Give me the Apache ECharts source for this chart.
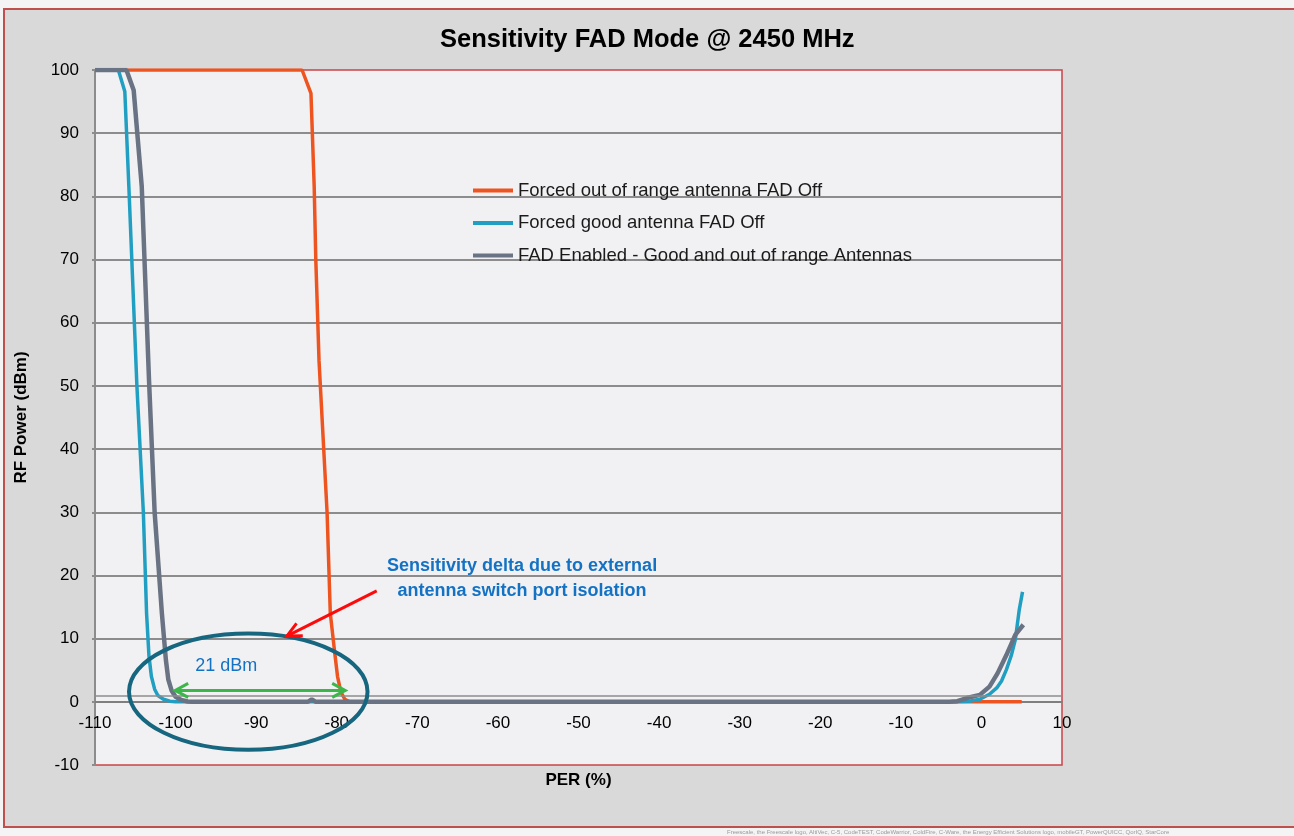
<!DOCTYPE html>
<html>
<head>
<meta charset="utf-8">
<script src="https://cdn.jsdelivr.net/npm/echarts@6/dist/echarts.min.js"></script>
<style>
html,body{margin:0;padding:0;background:#f4f4f4;width:1294px;height:836px;overflow:hidden;font-family:"Liberation Sans",Arial,sans-serif;}
#frame{position:absolute;left:3px;top:8px;width:1310px;height:820px;background:#d9d9d9;border:2px solid #c0504d;box-sizing:border-box;}
#chart{position:absolute;left:0;top:0;width:1294px;height:836px;}
#foot{position:absolute;left:727px;top:829px;font-size:6px;color:#9a9a9a;white-space:nowrap;}
</style>
</head>
<body>
<div id="frame"></div>
<div id="chart"></div>
<div id="foot">Freescale, the Freescale logo, AltiVec, C-5, CodeTEST, CodeWarrior, ColdFire, C-Ware, the Energy Efficient Solutions logo, mobileGT, PowerQUICC, QorIQ, StarCore</div>
<script>
// ---- data ----
const titleText = 'Sensitivity FAD Mode @ 2450 MHz';
const xAxisName = 'PER (%)';
const yAxisName = 'RF Power (dBm)';
const seriesNames = ['Forced out of range antenna FAD Off', 'Forced good antenna FAD Off', 'FAD Enabled - Good and out of range Antennas'];
const outOfRange = [[-110,100],[-84.3,100],[-83.2,96.3],[-82.8,81.6],[-82.6,70],[-82.2,54],[-81.2,30],[-80.8,14],[-80.2,7.2],[-79.9,4],[-79.5,1.6],[-79.0,0.4],[-78.4,0],[5,0]];
const goodAntenna = [[-110,100],[-107.1,100],[-106.3,96.6],[-105.8,81.6],[-104.8,50],[-104.0,30],[-103.6,14],[-103.3,7.2],[-103.0,4],[-102.6,2],[-102.2,1],[-101.5,0.4],[-100.7,0.1],[-100,0],[-4,0],[-3,0.05],[-1.5,0.1],[-0.2,0.4],[1,1.2],[1.9,2.2],[2.5,3.3],[3.1,5.1],[3.7,7.3],[4.2,9.8],[4.7,14.6],[5.1,17.4]];
const fadEnabled = [[-110,100],[-106.1,100],[-105.2,96.8],[-104.2,81.6],[-103.3,51],[-102.6,30],[-101.7,14],[-101.2,6.6],[-100.9,3.5],[-100.5,1.8],[-100.0,0.8],[-99.3,0.3],[-98.5,0.05],[-98,0],[-83.6,0],[-83.1,0.4],[-82.6,0],[-4,0],[-3,0.1],[-1.8,0.6],[-0.2,1.1],[1.0,2.4],[2.0,4.5],[3.1,7.4],[4.2,10.6],[5.2,12.2]];
const refLineY = 1;
const xCrossY = 0;
// annotations (data coordinates)
const noteLines = ['Sensitivity delta due to external', 'antenna switch port isolation'];
const noteAnchor = [-57.0, 21.5];
const noteLine2Anchor = [-57.0, 17.6];
const deltaLabel = '21 dBm';
const deltaLabelPos = [-93.7, 5.6];
const deltaArrow = [[-100.05, 1.8], [-78.95, 1.8]];
const ellipseCenter = [-90.98, 1.6];
const ellipseRadii = [14.8, 9.2];
const redArrow = [[-75.04, 17.56], [-86.2, 10.4]];

const colors = ['#ee5420', '#209fc2', '#6a7383'];
const chart = echarts.init(document.getElementById('chart'), null, {renderer: 'canvas'});
const FONT = '"Liberation Sans", Arial, sans-serif';

const option = {
  backgroundColor: 'transparent',
  animation: false,
  title: {text: titleText, left: 435, top: 22, textStyle: {fontFamily: FONT, fontSize: 25.5, fontWeight: 'bold', color: '#000'}},
  legend: {
    orient: 'vertical', left: 473, top: 181, padding: 0, itemWidth: 40, itemHeight: 4, itemGap: 13.5, icon: 'rect',
    textStyle: {fontFamily: FONT, fontSize: 18.5, lineHeight: 18, color: '#1a1a1a'},
    data: seriesNames
  },
  grid: {left: 95, top: 70, right: 232, bottom: 71, show: true, backgroundColor: '#f1f1f3', borderColor: '#c9444a', borderWidth: 1.5, outerBoundsMode: 'none', containLabel: false},
  xAxis: {
    type: 'value', min: -110, max: 10, interval: 10, position: 'bottom', offset: 0,
    name: xAxisName, nameLocation: 'middle', nameGap: 70,
    nameTextStyle: {fontFamily: FONT, fontSize: 17, fontWeight: 'bold', color: '#000'},
    axisLine: {onZero: false, lineStyle: {color: '#7f7f7f', width: 2}},
    axisTick: {show: false},
    axisLabel: {fontFamily: FONT, fontSize: 17, color: '#000', margin: 13},
    splitLine: {show: false}
  },
  yAxis: {
    type: 'value', min: -10, max: 100, interval: 10,
    name: yAxisName, nameLocation: 'middle', nameGap: 65,
    nameTextStyle: {fontFamily: FONT, fontSize: 17, fontWeight: 'bold', color: '#000'},
    axisLine: {show: true, onZero: false, lineStyle: {color: '#8c8c8c', width: 2}},
    axisTick: {show: true, inside: false, length: 3, lineStyle: {color: '#8c8c8c', width: 2}},
    axisLabel: {fontFamily: FONT, fontSize: 17, color: '#000', margin: 16},
    splitLine: {show: true, showMinLine: false, showMaxLine: false, lineStyle: {color: '#8c8c8c', width: 2}}
  },
  series: [
    {name: seriesNames[0], type: 'line', data: outOfRange, symbol: 'none', color: colors[0], lineStyle: {width: 3.5, color: colors[0]},
     markLine: {silent: true, symbol: 'none', label: {show: false}, lineStyle: {color: '#8c8c8c', width: 1.5, type: 'solid'}, data: [{yAxis: refLineY}]}},
    {name: seriesNames[1], type: 'line', data: goodAntenna, symbol: 'none', color: colors[1], lineStyle: {width: 3.5, color: colors[1]}},
    {name: seriesNames[2], type: 'line', data: fadEnabled, symbol: 'none', color: colors[2], lineStyle: {width: 4.5, color: colors[2]}}
  ]
};
chart.setOption(option);

function px(p) { return chart.convertToPixel({gridIndex: 0}, p); }
// move the x axis up so it crosses the y axis at y = 0
const pZero = px([0, xCrossY]);
const pBottom = px([0, -10]);
chart.setOption({xAxis: {offset: -(pBottom[1] - pZero[1])}});

const c = px(ellipseCenter);
const ex = px([ellipseCenter[0] + ellipseRadii[0], ellipseCenter[1]]);
const ey = px([ellipseCenter[0], ellipseCenter[1] + ellipseRadii[1]]);
const rx = Math.abs(ex[0] - c[0]), ry = Math.abs(c[1] - ey[1]);
const a0 = px(deltaArrow[0]), a1 = px(deltaArrow[1]);
const r0 = px(redArrow[0]), r1 = px(redArrow[1]);
const n1 = px(noteAnchor), n2 = px(noteLine2Anchor), dl = px(deltaLabelPos);
const ang = Math.atan2(r1[1] - r0[1], r1[0] - r0[0]);
const hl = 16, hw = 0.45;
const head = [
  [r1[0] - hl * Math.cos(ang - hw), r1[1] - hl * Math.sin(ang - hw)],
  [r1[0], r1[1]],
  [r1[0] - hl * Math.cos(ang + hw), r1[1] - hl * Math.sin(ang + hw)]
];
const green = '#3cb54a';
chart.setOption({
  graphic: [
    {type: 'ellipse', z: 100, shape: {cx: c[0], cy: c[1], rx: rx, ry: ry}, style: {fill: 'none', stroke: '#17667f', lineWidth: 4}},
    {type: 'line', z: 100, shape: {x1: a0[0], y1: a0[1], x2: a1[0], y2: a1[1]}, style: {stroke: green, lineWidth: 3}},
    {type: 'polyline', z: 100, shape: {points: [[a0[0] + 13, a0[1] - 7], [a0[0], a0[1]], [a0[0] + 13, a0[1] + 7]]}, style: {stroke: green, lineWidth: 3, fill: 'none'}},
    {type: 'polyline', z: 100, shape: {points: [[a1[0] - 13, a1[1] - 7], [a1[0], a1[1]], [a1[0] - 13, a1[1] + 7]]}, style: {stroke: green, lineWidth: 3, fill: 'none'}},
    {type: 'line', z: 100, shape: {x1: r0[0], y1: r0[1], x2: r1[0], y2: r1[1]}, style: {stroke: '#ff0a0a', lineWidth: 3}},
    {type: 'polyline', z: 100, shape: {points: head}, style: {stroke: '#ff0a0a', lineWidth: 3, fill: 'none'}},
    {type: 'text', z: 100, x: n1[0], y: n1[1], style: {text: noteLines[0], fill: '#1472c4', font: 'bold 18px ' + FONT, align: 'center', verticalAlign: 'middle'}},
    {type: 'text', z: 100, x: n2[0], y: n2[1], style: {text: noteLines[1], fill: '#1472c4', font: 'bold 18px ' + FONT, align: 'center', verticalAlign: 'middle'}},
    {type: 'text', z: 100, x: dl[0], y: dl[1], style: {text: deltaLabel, fill: '#1472c4', font: '18px ' + FONT, align: 'center', verticalAlign: 'middle'}}
  ]
});
</script>
</body>
</html>
